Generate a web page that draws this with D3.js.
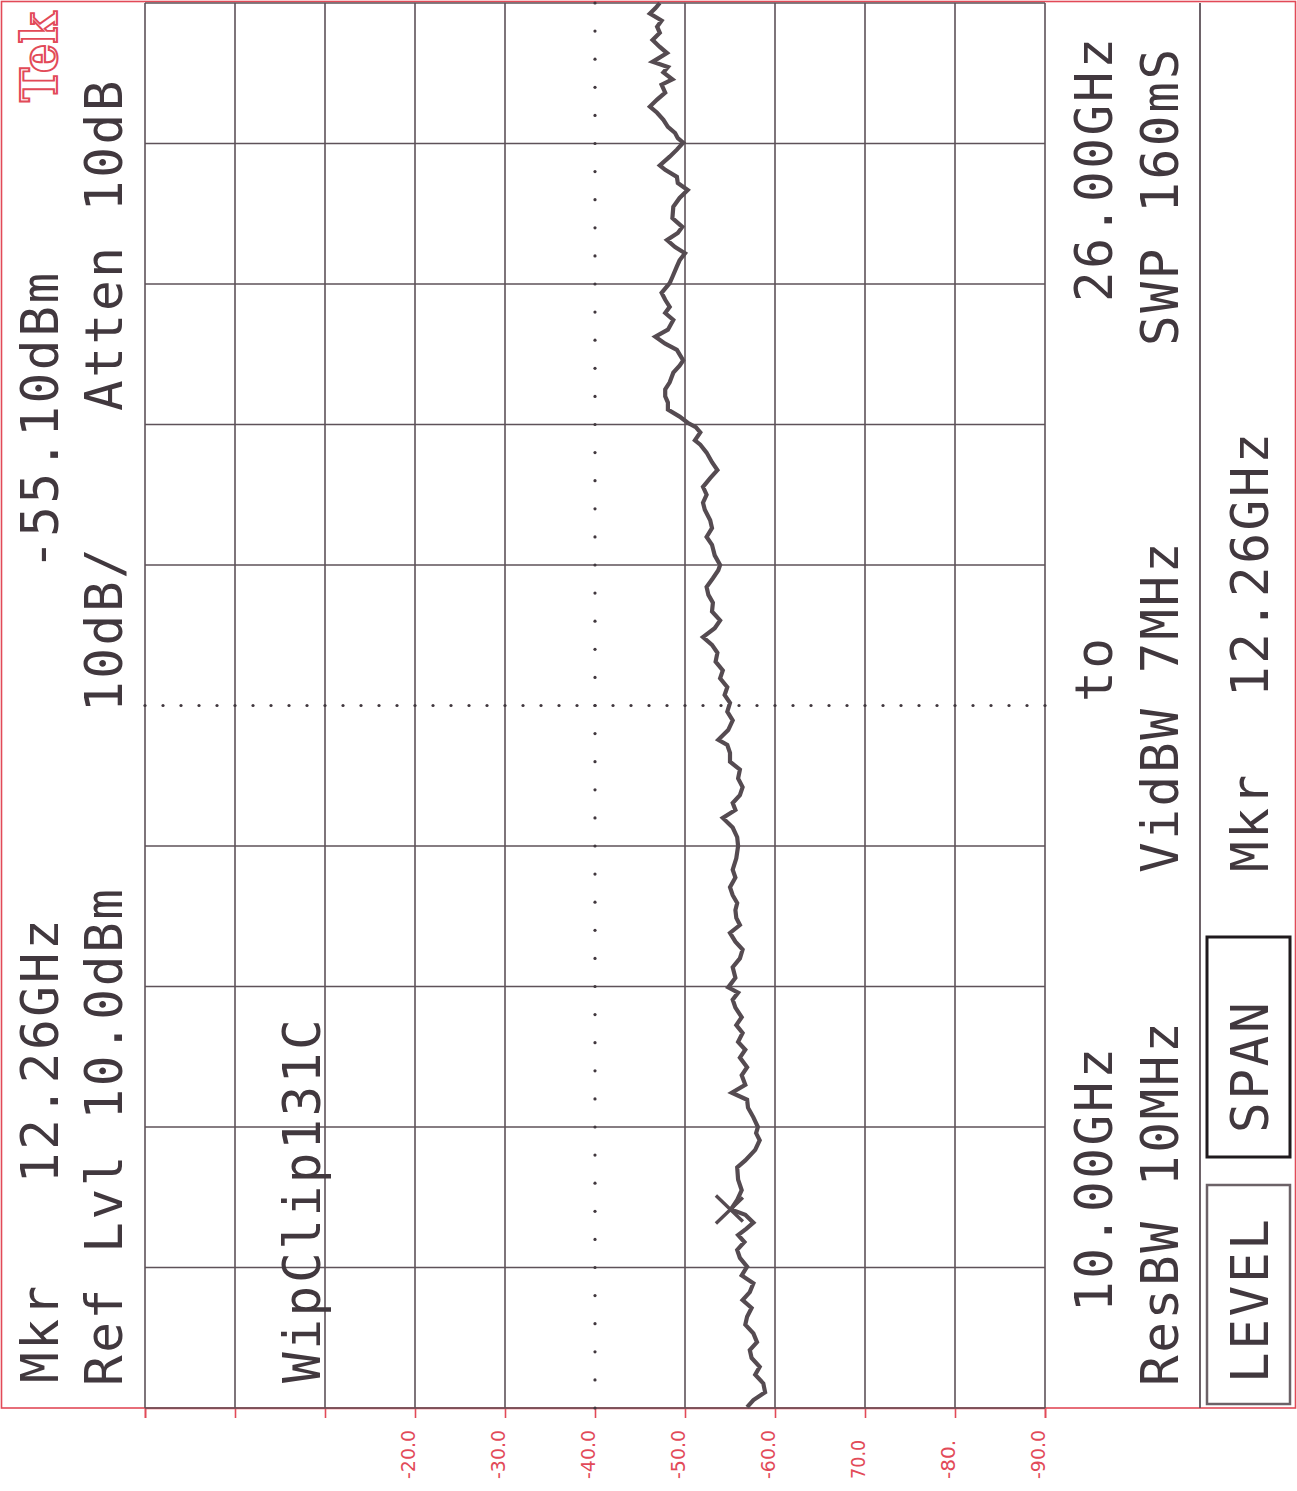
<html>
<head>
<style>
body { margin:0; background:#ffffff; }
</style>
</head>
<body>
<svg id="plot"></svg>
<script src="https://d3js.org/d3.v7.min.js"></script>
<script>

// trace: frequency (GHz) and level (dBm)
var freqGHz = [
 10.01,10.09,10.18,10.28,10.38,10.47,10.57,10.66,10.75,10.85,10.95,11.04,11.14,11.23,11.32,11.42,11.51,11.61,11.71,11.80,
 11.89,11.97,12.04,12.11,12.20,12.26,12.37,12.48,12.60,12.74,12.82,12.94,13.05,13.13,13.20,13.31,13.42,13.51,13.59,13.68,
 13.79,13.88,13.99,14.08,14.17,14.27,14.36,14.45,14.56,14.65,14.73,14.79,14.90,15.02,15.12,15.22,15.31,15.41,15.50,15.58,
 15.67,15.75,15.84,15.93,16.04,16.13,16.26,16.40,16.50,16.61,16.72,16.81,16.89,16.98,17.07,17.17,17.27,17.36,17.46,17.55,
 17.61,17.72,17.83,17.93,18.03,18.12,18.21,18.31,18.40,18.50,18.60,18.69,18.78,18.88,18.97,19.07,19.17,19.26,19.35,19.45,
 19.54,19.60,19.71,19.83,19.92,20.02,20.11,20.23,20.31,20.40,20.49,20.59,20.68,20.77,20.88,20.97,21.02,21.11,21.17,21.22,
 21.29,21.37,21.45,21.52,21.60,21.68,21.79,21.87,21.93,22.05,22.12,22.20,22.28,22.39,22.47,22.54,22.62,22.70,22.81,22.88,
 23.00,23.07,23.15,23.22,23.30,23.38,23.45,23.55,23.68,23.78,23.87,23.95,24.02,24.10,24.15,24.25,24.33,24.41,24.46,24.52,
 24.59,24.67,24.75,24.82,24.90,24.98,25.07,25.13,25.21,25.27,25.33,25.43,25.50,25.58,25.66,25.73,25.80,25.88,25.94,26.00
];
var levelDbm = [
 -56.9,-57.6,-58.9,-58.7,-57.8,-58.3,-57.4,-57.2,-58.0,-57.6,-56.7,-56.9,-57.4,-56.4,-57.2,-57.6,-56.3,-56.9,-56.1,-55.8,
 -56.6,-55.9,-56.8,-57.6,-56.7,-55.1,-55.8,-56.3,-55.9,-55.8,-56.7,-57.8,-58.3,-57.9,-58.1,-57.6,-57.0,-56.9,-55.2,-56.7,
 -56.3,-56.9,-56.1,-56.7,-55.9,-56.4,-55.7,-56.3,-55.6,-55.3,-55.9,-54.8,-55.6,-55.3,-56.1,-56.4,-55.6,-55.0,-56.1,-55.7,
 -55.6,-55.8,-55.3,-55.0,-55.6,-55.3,-55.7,-55.9,-55.8,-55.3,-54.2,-55.6,-55.3,-56.1,-56.4,-55.9,-56.1,-55.0,-55.0,-54.7,
 -53.7,-54.8,-55.3,-54.7,-55.0,-54.4,-54.7,-53.9,-54.2,-53.4,-53.6,-53.0,-52.0,-53.3,-53.9,-53.0,-53.1,-52.6,-52.4,-53.1,
 -53.7,-53.9,-53.3,-53.0,-52.4,-53.0,-52.8,-52.2,-52.0,-52.4,-52.0,-52.8,-53.6,-53.0,-52.4,-51.7,-51.1,-51.7,-51.2,-50.3,
 -49.4,-48.1,-48.1,-47.8,-47.8,-48.3,-48.7,-49.4,-49.8,-49.1,-47.8,-46.7,-48.1,-48.7,-47.8,-48.3,-47.8,-47.4,-48.3,-48.6,
 -49.1,-49.4,-50.0,-48.9,-48.0,-49.2,-49.7,-48.6,-48.7,-49.4,-50.3,-49.2,-49.1,-47.8,-47.2,-48.3,-49.1,-49.8,-49.2,-48.9,
 -48.1,-47.6,-46.9,-46.1,-46.9,-47.8,-47.4,-48.6,-47.6,-48.1,-46.4,-48.0,-47.2,-46.4,-47.2,-46.9,-47.4,-46.1,-46.7,-47.2
];

var levelTicks = [10, 0, -10, -20, -30, -40, -50, -60, -70, -80, -90];
var levelTickLabels = ["", "", "", "-20.0", "-30.0", "-40.0", "-50.0", "-60.0", "70.0", "-80.", "-90.0"];
var freqLines = [10, 11.6, 13.2, 14.8, 16.4, 18, 19.6, 21.2, 22.8, 24.4, 26];

var markerFreq = 12.26;
var markerLevel = -55.1;

var readoutTexts = ["Mkr   12.26GHz", "-55.10dBm", "Ref Lvl 10.0dBm", "10dB/", "Atten 10dB",
                    "WipClip131C", "10.00GHz", "to", "26.00GHz", "ResBW 10MHz", "VidBW 7MHz",
                    "SWP 160mS", "Mkr", "12.26GHz", "LEVEL", "SPAN"];

var ink = "#41383e";
var gridInk = "#5e5259";
var red = "#e24a58";

var drawPlot = function(target)
{
    var screen = {width:1297, height:1491};
    var box = {left:145, right:1045, top:3, bottom:1408};

    var svg = d3.select(target)
        .attr("width", screen.width)
        .attr("height", screen.height)
        .style("display", "block")
        .style("background", "#ffffff");

    var xScale = d3.scaleLinear()
        .domain([10, -90])
        .range([box.left, box.right]);

    var yScale = d3.scaleLinear()
        .domain([10, 26])
        .range([box.bottom, box.top]);

    //outer red frame
    svg.append("rect")
        .attr("x", 1.5)
        .attr("y", 1.5)
        .attr("width", 1294)
        .attr("height", box.bottom - 1.5)
        .attr("fill", "none")
        .attr("stroke", red)
        .attr("stroke-width", 1.6);

    //amplitude axis along the bottom
    var axis = d3.axisBottom(xScale)
        .tickValues(levelTicks)
        .tickSize(10)
        .tickFormat("");

    var axisG = svg.append("g")
        .attr("transform", "translate(0," + box.bottom + ")")
        .call(axis);

    axisG.select(".domain").attr("stroke", red).attr("stroke-width", 1.6);
    axisG.selectAll(".tick line").attr("stroke", red).attr("stroke-width", 1.6);

    axisG.selectAll(".tick")
        .append("text")
        .text(function(d){ return levelTickLabels[levelTicks.indexOf(d)]; })
        .attr("transform", "translate(-1,71) rotate(-90)")
        .attr("text-anchor", "start")
        .attr("fill", red)
        .attr("font-family", "DejaVu Sans Condensed, DejaVu Sans")
        .attr("font-size", 20)
        .attr("textLength", function(d){ return levelTickLabels[levelTicks.indexOf(d)].length * 9.8; })
        .attr("lengthAdjust", "spacingAndGlyphs");

    var grid = svg.append("g").attr("class", "grid");

    //solid graticule, center lines are dotted instead
    grid.selectAll(".vline")
        .data(levelTicks.filter(function(d){ return d != -40; }))
        .enter()
        .append("line")
        .attr("x1", function(d){ return xScale(d); })
        .attr("x2", function(d){ return xScale(d); })
        .attr("y1", box.top)
        .attr("y2", box.bottom)
        .attr("stroke", gridInk)
        .attr("stroke-width", 1.6);

    grid.selectAll(".hline")
        .data(freqLines.filter(function(d){ return d != 18; }))
        .enter()
        .append("line")
        .attr("x1", box.left)
        .attr("x2", box.right)
        .attr("y1", function(d){ return yScale(d); })
        .attr("y2", function(d){ return yScale(d); })
        .attr("stroke", gridInk)
        .attr("stroke-width", 1.6);

    grid.selectAll(".hdot")
        .data(d3.range(10, -90.01, -2))
        .enter()
        .append("circle")
        .attr("cx", function(d){ return xScale(d); })
        .attr("cy", yScale(18))
        .attr("r", 1.6)
        .attr("fill", ink);

    grid.selectAll(".vdot")
        .data(d3.range(10, 26.01, 0.32))
        .enter()
        .append("circle")
        .attr("cx", xScale(-40))
        .attr("cy", function(d){ return yScale(d); })
        .attr("r", 1.6)
        .attr("fill", ink);

    //panel divider on the right
    svg.append("line")
        .attr("x1", 1200).attr("x2", 1200)
        .attr("y1", box.top).attr("y2", box.bottom)
        .attr("stroke", gridInk)
        .attr("stroke-width", 1.8);

    //the trace
    var points = freqGHz.map(function(f, i){ return {f:f, v:levelDbm[i]}; });

    var line = d3.line()
        .x(function(p){ return xScale(p.v); })
        .y(function(p){ return yScale(p.f); });

    svg.append("path")
        .datum(points)
        .attr("d", line)
        .attr("fill", "none")
        .attr("stroke", "#554b51")
        .attr("stroke-width", 4.2)
        .attr("stroke-linejoin", "miter")
        .attr("stroke-miterlimit", 2.5);

    //marker X
    var mx = xScale(markerLevel);
    var my = yScale(markerFreq);
    svg.append("path")
        .attr("d", "M" + (mx - 15) + "," + (my - 14) + "L" + (mx + 12) + "," + (my + 12) +
                   "M" + (mx - 15) + "," + (my + 14) + "L" + (mx + 12) + "," + (my - 12))
        .attr("stroke", "#554b51")
        .attr("stroke-width", 3.4)
        .attr("fill", "none");

    //readouts, all rotated to read upward
    var slots = [
        [58, 1383], [58, 570], [122, 1386], [122, 712], [122, 411],
        [320, 1383], [1112, 1312], [1112, 702], [1112, 302], [1178, 1386], [1178, 873],
        [1178, 346], [1268, 872], [1268, 697], [1268, 1383], [1268, 1133]
    ];

    svg.append("g")
        .selectAll("text")
        .data(readoutTexts)
        .enter()
        .append("text")
        .attr("transform", function(d, i){ return "translate(" + slots[i][0] + "," + slots[i][1] + ") rotate(-90)"; })
        .attr("font-family", "DejaVu Sans Mono")
        .attr("font-size", 51)
        .attr("letter-spacing", 2.6)
        .attr("fill", ink)
        .style("white-space", "pre")
        .text(function(d){ return d; });

    //softkey boxes
    svg.append("rect")
        .attr("x", 1207).attr("y", 1185)
        .attr("width", 83).attr("height", 219)
        .attr("fill", "none")
        .attr("stroke", "#6c6267")
        .attr("stroke-width", 2.5);

    svg.append("rect")
        .attr("x", 1207).attr("y", 937)
        .attr("width", 83).attr("height", 220)
        .attr("fill", "none")
        .attr("stroke", "#1f1a1d")
        .attr("stroke-width", 3);

    //Tek logo
    svg.append("text")
        .attr("transform", "translate(57,102) rotate(-90)")
        .attr("font-family", "DejaVu Serif")
        .attr("font-weight", "bold")
        .attr("font-size", 50)
        .attr("textLength", 90)
        .attr("lengthAdjust", "spacingAndGlyphs")
        .attr("fill", "#ffffff")
        .attr("stroke", red)
        .attr("stroke-width", 2)
        .text("Tek");
}

drawPlot("#plot");

</script>
</body>
</html>
